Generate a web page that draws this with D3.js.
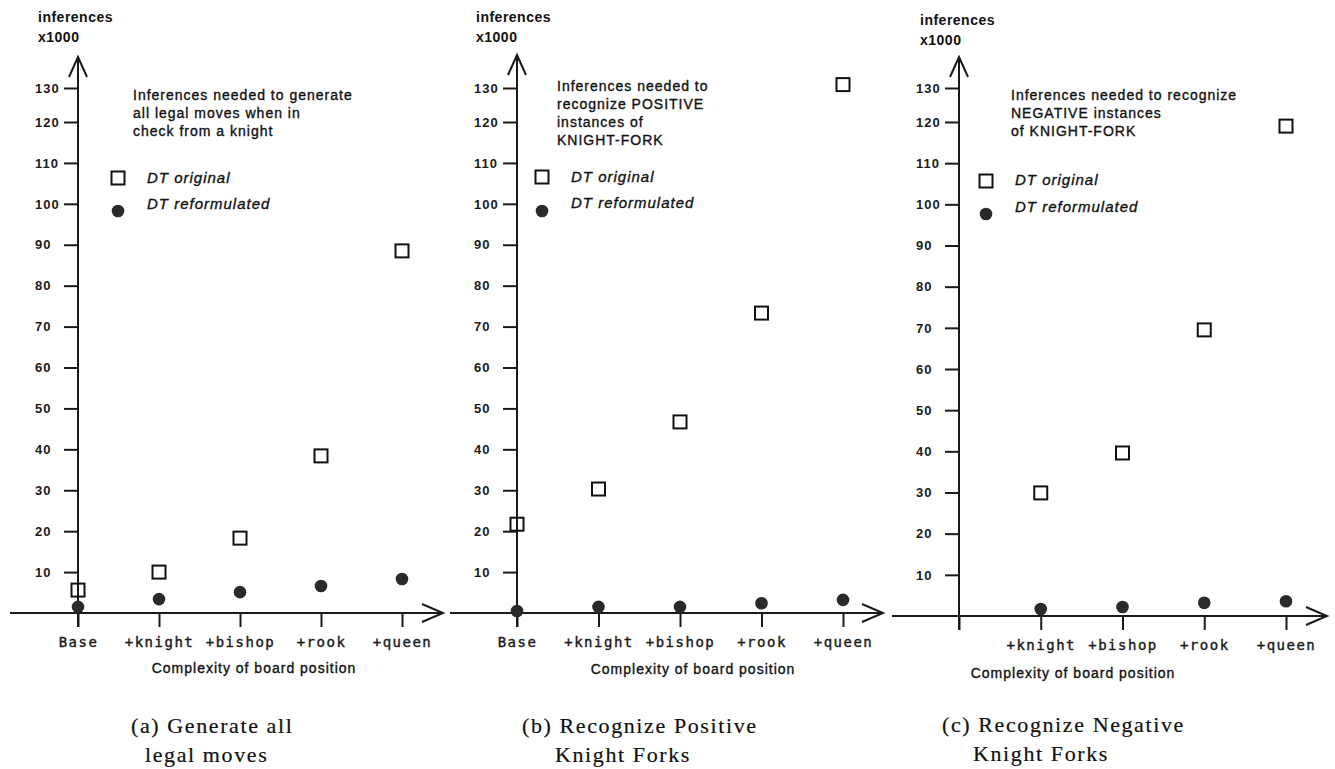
<!DOCTYPE html>
<html>
<head>
<meta charset="utf-8">
<style>
  body { margin: 0; background: #fff; }
  svg { display: block; }
  .ylab text { font: bold 13px "Liberation Sans", Arial, sans-serif; letter-spacing: 1px; fill: #1a1a1a; }
  .xlab text { font: 14px "DejaVu Sans Mono", monospace; letter-spacing: 1.5px; fill: #1a1a1a; stroke: #1a1a1a; stroke-width: 0.4px; }
  .tick line { stroke: #1a1a1a; stroke-width: 2px; }
  .note { font: 14px "Liberation Sans", Arial, sans-serif; letter-spacing: 1px; fill: #111; stroke: #111; stroke-width: 0.35px; }
  .head { font: bold 14px "Liberation Sans", Arial, sans-serif; letter-spacing: 0.5px; fill: #111; }
  .legend { font: italic 15px "Liberation Sans", Arial, sans-serif; letter-spacing: 1px; fill: #111; stroke: #111; stroke-width: 0.35px; }
  .caption { font: 22px "Liberation Serif", "Times New Roman", serif; letter-spacing: 1.6px; fill: #111; stroke: #111; stroke-width: 0.2px; }
</style>
</head>
<body>
<svg width="1335" height="769"></svg>
<script src="https://cdn.jsdelivr.net/npm/d3@7"></script>
<script>

// data (inferences x1000)
const categories = ["Base", "+knight", "+bishop", "+rook", "+queen"];
const yTicks = [10, 20, 30, 40, 50, 60, 70, 80, 90, 100, 110, 120, 130];

const movesOriginal     = [5.6, 10, 18.3, 38.4, 88.5];
const movesReformulated = [1.5, 3.4, 5.1, 6.6, 8.3];

const posOriginal     = [21.7, 30.3, 46.7, 73.3, 131];
const posReformulated = [0.5, 1.5, 1.5, 2.4, 3.2];

// no Base position for the negative instances
const negOriginal     = [null, 29.9, 39.6, 69.5, 119];
const negReformulated = [null, 1.7, 2.2, 3.2, 3.6];

const legendLabels = ["DT original", "DT reformulated"];
const yTitle = ["inferences", "x1000"];
const xTitle = "Complexity of board position";

const noteA = ["Inferences needed to generate", "all legal moves when in", "check from a knight"];
const noteB = ["Inferences needed to", "recognize POSITIVE", "instances of", "KNIGHT-FORK"];
const noteC = ["Inferences needed to recognize", "NEGATIVE instances", "of KNIGHT-FORK"];

const captionA = ["(a) Generate all", "legal moves"];
const captionB = ["(b) Recognize Positive", "Knight Forks"];
const captionC = ["(c) Recognize Negative", "Knight Forks"];

const svg = d3.select("svg");

const panels = [
  { ox: 78, xLast: 402, oy: 613, y120: 122, y130: 88, top: 57, axL: 10, axR: 443,
    headX: 38, headY: [22, 42], note: noteA, noteX: 133, noteY: [100, 118, 136],
    legX: 118, symY: [178, 211], txtY: [183, 209],
    complexX: 254, complexY: 673, caption: captionA, capX: [131, 145], capY: [733, 762],
    original: movesOriginal, reform: movesReformulated, showBase: true },
  { ox: 517, xLast: 843, oy: 613, y120: 122, y130: 88, top: 55, axL: 450, axR: 883,
    headX: 476, headY: [22, 42], note: noteB, noteX: 557, noteY: [91, 109, 127, 145],
    legX: 542, symY: [177, 211], txtY: [182, 208],
    complexX: 693, complexY: 674, caption: captionB, capX: [522, 555], capY: [733, 762],
    original: posOriginal, reform: posReformulated, showBase: true },
  { ox: 959, xLast: 1286, oy: 616, y120: 122, y130: 88, top: 57, axL: 892, axR: 1327,
    headX: 920, headY: [25, 45], note: noteC, noteX: 1011, noteY: [100, 118, 136],
    legX: 986, symY: [181, 214], txtY: [185, 212],
    complexX: 1073, complexY: 678, caption: captionC, capX: [942, 973], capY: [732, 761],
    original: negOriginal, reform: negReformulated, showBase: false }
];

panels.forEach(function(p) {
  const g = svg.append("g");

  const x = d3.scalePoint().domain(categories).range([p.ox, p.xLast]);
  // the printed axis is slightly stretched at the top, so a polylinear scale
  const y = d3.scaleLinear().domain([0, 120, 130]).range([p.oy, p.y120, p.y130]);

  // y axis ticks + labels
  const yAxis = d3.axisLeft(y).tickValues(yTicks).tickSize(14).tickFormat(d3.format("d"));
  const ya = g.append("g").attr("class", "ylab")
    .attr("transform", "translate(" + p.ox + ",0)")
    .call(yAxis);
  ya.select(".domain").remove();
  ya.selectAll("text").attr("text-anchor", "start").attr("x", -43);

  // x axis ticks + labels
  const xAxis = d3.axisBottom(x).tickSize(14).tickPadding(10)
    .tickFormat(function(d) { return (d === "Base" && !p.showBase) ? "" : d; });
  const xa = g.append("g").attr("class", "xlab")
    .attr("transform", "translate(0," + p.oy + ")")
    .call(xAxis);
  xa.select(".domain").remove();

  // axis lines with open arrow heads
  g.append("line").attr("x1", p.axL).attr("x2", p.axR).attr("y1", p.oy).attr("y2", p.oy)
    .attr("stroke", "#1a1a1a").attr("stroke-width", 2);
  g.append("path")
    .attr("d", "M" + (p.axR - 21) + "," + (p.oy - 9) + "L" + p.axR + "," + p.oy + "L" + (p.axR - 21) + "," + (p.oy + 9))
    .attr("fill", "none").attr("stroke", "#1a1a1a").attr("stroke-width", 2);
  g.append("line").attr("x1", p.ox).attr("x2", p.ox).attr("y1", p.oy + 14).attr("y2", p.top)
    .attr("stroke", "#1a1a1a").attr("stroke-width", 2);
  g.append("path")
    .attr("d", "M" + (p.ox - 9) + "," + (p.top + 20) + "L" + p.ox + "," + p.top + "L" + (p.ox + 9) + "," + (p.top + 20))
    .attr("fill", "none").attr("stroke", "#1a1a1a").attr("stroke-width", 2);

  // y title
  g.selectAll(".head").data(yTitle).enter().append("text")
    .attr("class", "head").attr("x", p.headX)
    .attr("y", function(d, i) { return p.headY[i]; })
    .text(function(d) { return d; });

  // note
  g.selectAll(".note").data(p.note).enter().append("text")
    .attr("class", "note").attr("x", p.noteX)
    .attr("y", function(d, i) { return p.noteY[i]; })
    .text(function(d) { return d; });

  // legend
  g.append("rect").attr("x", p.legX - 6.5).attr("y", p.symY[0] - 6.5)
    .attr("width", 13).attr("height", 13)
    .attr("fill", "none").attr("stroke", "#111").attr("stroke-width", 2);
  g.append("circle").attr("cx", p.legX).attr("cy", p.symY[1]).attr("r", 6.3).attr("fill", "#2a2a2a");
  g.selectAll(".legend").data(legendLabels).enter().append("text")
    .attr("class", "legend").attr("x", p.legX + 29)
    .attr("y", function(d, i) { return p.txtY[i]; })
    .text(function(d) { return d; });

  // points
  const orig = categories.map(function(c, i) { return { c: c, v: p.original[i] }; })
    .filter(function(d) { return d.v != null; });
  const ref = categories.map(function(c, i) { return { c: c, v: p.reform[i] }; })
    .filter(function(d) { return d.v != null; });

  g.selectAll(".orig").data(orig).enter().append("rect")
    .attr("class", "orig")
    .attr("x", function(d) { return x(d.c) - 6.5; })
    .attr("y", function(d) { return y(d.v) - 6.5; })
    .attr("width", 13).attr("height", 13)
    .attr("fill", "#fff").attr("fill-opacity", 0)
    .attr("stroke", "#111").attr("stroke-width", 2);

  g.selectAll(".ref").data(ref).enter().append("circle")
    .attr("class", "ref")
    .attr("cx", function(d) { return x(d.c); })
    .attr("cy", function(d) { return y(d.v); })
    .attr("r", 6.3).attr("fill", "#2a2a2a");

  // x title
  g.append("text").attr("class", "note").attr("x", p.complexX).attr("y", p.complexY)
    .attr("text-anchor", "middle").text(xTitle);

  // caption
  g.selectAll(".caption").data(p.caption).enter().append("text")
    .attr("class", "caption")
    .attr("x", function(d, i) { return p.capX[i]; })
    .attr("y", function(d, i) { return p.capY[i]; })
    .text(function(d) { return d; });
});

</script>
</body>
</html>
